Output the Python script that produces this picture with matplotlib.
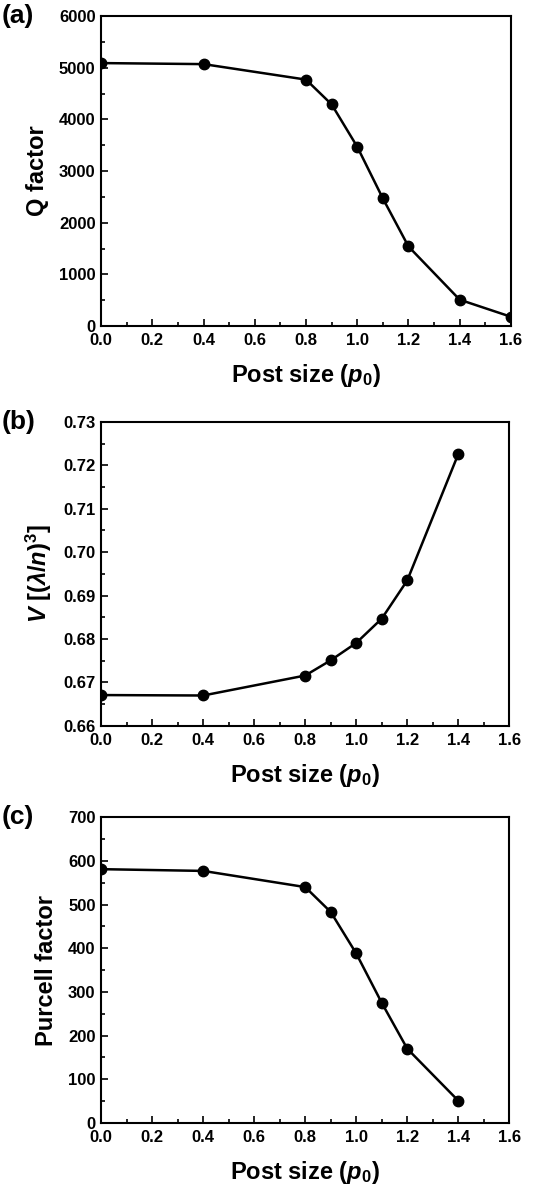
import matplotlib
matplotlib.use('Agg')
import matplotlib.pyplot as plt
from matplotlib.ticker import MultipleLocator

plt.rcParams['font.family'] = ['Liberation Sans', 'DejaVu Sans']
plt.rcParams['font.weight'] = 'bold'
plt.rcParams['mathtext.fontset'] = 'custom'
plt.rcParams['mathtext.rm'] = 'Liberation Sans:bold'
plt.rcParams['mathtext.it'] = 'Liberation Sans:italic:bold'
plt.rcParams['mathtext.bf'] = 'Liberation Sans:bold'

# Datos
post_q = [0.0, 0.4, 0.8, 0.9, 1.0, 1.1, 1.2, 1.4, 1.6]
q_factor = [5090, 5070, 4770, 4290, 3470, 2470, 1540, 510, 180]

post_v = [0.0, 0.4, 0.8, 0.9, 1.0, 1.1, 1.2, 1.4]
volume = [0.6671, 0.6670, 0.6716, 0.6751, 0.6791, 0.6847, 0.6935, 0.7226]

post_p = [0.0, 0.4, 0.8, 0.9, 1.0, 1.1, 1.2, 1.4]
purcell = [581, 577, 540, 483, 388, 275, 170, 51]

xlabel = r'Post size ($\mathit{p}_{\mathit{0}}$)'

fig = plt.figure(figsize=(5.35, 11.9), dpi=100)

paneles = [
    ([0.189, 0.726, 0.766, 0.2605], post_q, q_factor, (0, 6000), 1000, 500, 'Q factor', '(a)', '%d'),
    ([0.189, 0.390, 0.763, 0.2555], post_v, volume, (0.66, 0.73), 0.01, 0.005,
     r'$\mathit{V}$ [($\mathit{\lambda}$/$\mathit{n}$)$^{3}$]', '(b)', '%.2f'),
    ([0.189, 0.0563, 0.763, 0.257], post_p, purcell, (0, 700), 100, 50, 'Purcell factor', '(c)', '%d'),
]

for rect, x, y, ylim, major, minor, ylab, letra, fmt in paneles:
    ax = fig.add_axes(rect)
    ax.plot(x, y, color='black', lw=1.8, marker='o', ms=7.5)
    ax.set_xlim(0, 1.6)
    ax.set_ylim(*ylim)
    ax.xaxis.set_major_locator(MultipleLocator(0.2))
    ax.xaxis.set_minor_locator(MultipleLocator(0.1))
    ax.yaxis.set_major_locator(MultipleLocator(major))
    ax.yaxis.set_minor_locator(MultipleLocator(minor))
    ax.yaxis.set_major_formatter(plt.FormatStrFormatter(fmt))
    ax.xaxis.set_major_formatter(plt.FormatStrFormatter('%.1f'))
    ax.tick_params(which='both', direction='in', top=False, right=False, width=1.2)
    ax.tick_params(which='major', length=5, labelsize=12)
    ax.tick_params(axis='x', which='major', pad=5)
    ax.tick_params(axis='y', which='major', pad=4)
    ax.tick_params(which='minor', length=3)
    for s in ax.spines.values():
        s.set_linewidth(1.5)
    ax.set_xlabel(xlabel, fontsize=17, fontweight='bold', labelpad=10)
    ax.set_ylabel(ylab, fontsize=17, fontweight='bold', labelpad=7)
    ax.text(-0.203, 1.0, letra, transform=ax.transAxes, fontsize=19,
            fontweight='bold', ha='center', va='center')

fig.savefig('out.png', dpi=100)
